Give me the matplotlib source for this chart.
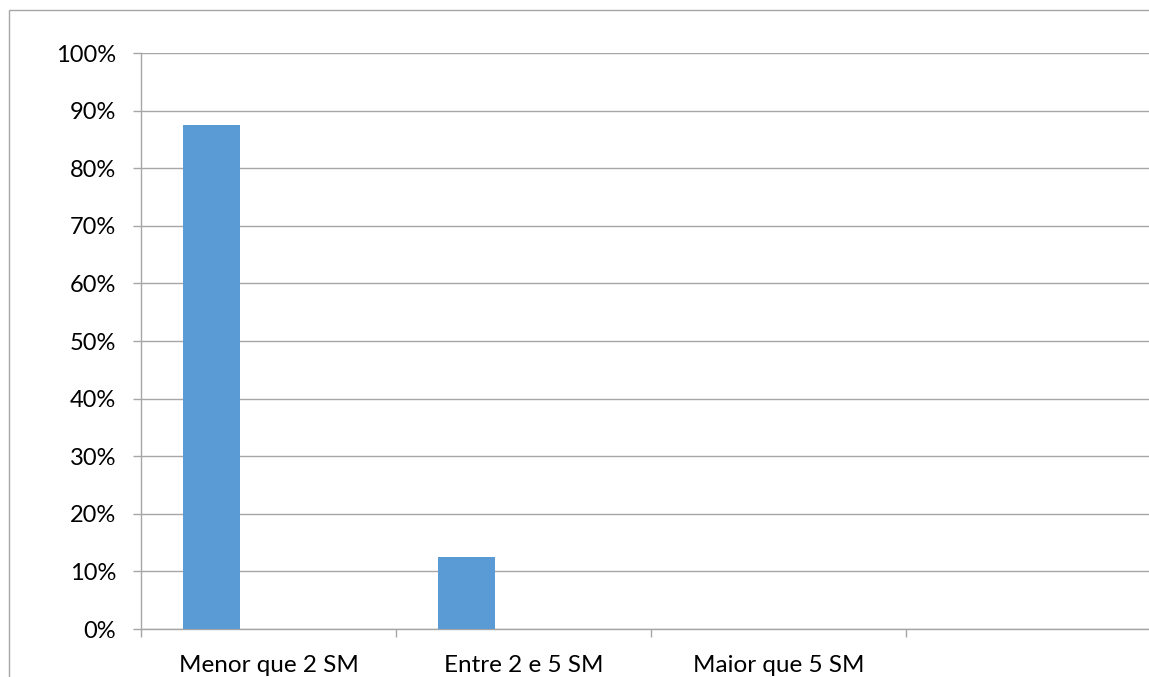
import matplotlib
matplotlib.use("Agg")
import matplotlib.pyplot as plt
from matplotlib.patches import Rectangle
from matplotlib.ticker import FuncFormatter, MultipleLocator

# Income bracket distribution (share of respondents)
categories = ["Menor que 2 SM", "Entre 2 e 5 SM", "Maior que 5 SM", ""]
shares = [0.875, 0.125, 0.0, 0.0]

plt.rcParams["font.family"] = ["Lato", "DejaVu Sans"]

W, H = 1149, 677
fig = plt.figure(figsize=(W / 100, H / 100), dpi=100)

# plot area in pixel terms; right edge runs past the canvas
left, right, top, bottom = 141, 1161, 53, 629
ax = fig.add_axes([left / W, 1 - bottom / H, (right - left) / W, (bottom - top) / H])

grid_col = "#A6A6A6"
bar_w = 57 / 255
xs = range(len(categories))
ax.bar([x - bar_w for x in xs], shares, width=bar_w, color="#5B9BD5", zorder=3)

ax.set_xlim(-0.5, len(categories) - 0.5)
ax.set_ylim(0, 1)
ax.yaxis.set_major_locator(MultipleLocator(0.1))
ax.yaxis.set_major_formatter(FuncFormatter(lambda v, _: f"{v * 100:.0f}%"))
ax.grid(axis="y", color=grid_col, linewidth=1, zorder=0)

ax.set_xticks(list(xs))
ax.set_xticklabels(categories)
ax.set_xticks([x - 0.5 for x in xs], minor=True)
ax.tick_params(axis="x", which="major", length=0, pad=18.5, labelsize=17.5)
ax.tick_params(axis="x", which="minor", length=6, color=grid_col, width=1)
ax.tick_params(axis="y", length=6, color=grid_col, width=1, pad=12, labelsize=17)

for side in ("top", "right"):
    ax.spines[side].set_visible(False)
for side in ("left", "bottom"):
    ax.spines[side].set_color(grid_col)
    ax.spines[side].set_linewidth(1)

# chart area frame
fig.patches.append(Rectangle((9 / W, -0.5), 2, 0.5 + (1 - 10 / H),
                             transform=fig.transFigure, fill=False,
                             edgecolor=grid_col, linewidth=1))

fig.savefig("out.png", dpi=100, facecolor="white")
